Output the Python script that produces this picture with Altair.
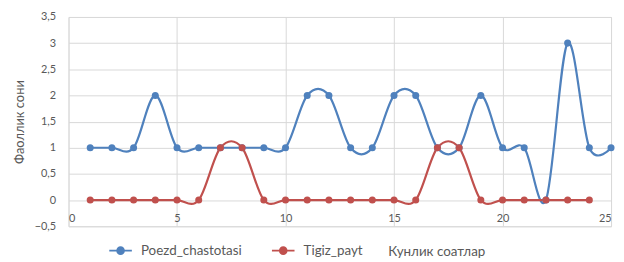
import altair as alt
import pandas as pd

hours_blue = list(range(1, 26))
poezd = [1, 1, 1, 2, 1, 1, 1, 1, 1, 1, 2, 2, 1, 1, 2, 2, 1, 1, 2, 1, 1, 0, 3, 1, 1]
hours_red = list(range(1, 25))
tigiz = [0, 0, 0, 0, 0, 0, 1, 1, 0, 0, 0, 0, 0, 0, 0, 0, 1, 1, 0, 0, 0, 0, 0, 0]
series_names = ["Poezd_chastotasi", "Tigiz_payt"]
series_colors = ["#4F81BD", "#C0504D"]

df = pd.concat([
    pd.DataFrame({"x": hours_blue, "y": poezd, "s": series_names[0]}),
    pd.DataFrame({"x": hours_red, "y": tigiz, "s": series_names[1]}),
])

FONT = "Lato"
GRAY = "#595959"

sym = "M-1.2,0L1.2,0M-0.35,0a0.35,0.35 0 1,0 0.7,0a0.35,0.35 0 1,0 -0.7,0"

color = alt.Color(
    "s:N",
    scale=alt.Scale(domain=series_names, range=series_colors),
    legend=alt.Legend(
        title=None, orient="none", direction="horizontal",
        legendX=42, legendY=225, symbolType=sym, symbolSize=360,
        symbolStrokeWidth=2, labelFont=FONT, labelFontSize=13.5,
        labelColor=GRAY, columnPadding=26, labelOffset=10,
    ),
)

x = alt.X(
    "x:Q",
    scale=alt.Scale(domain=[0, 25], nice=False),
    axis=alt.Axis(
        values=[0, 5, 10, 15, 20, 25], domain=False, ticks=False,
        labelPadding=-14, labelFont=FONT, labelFontSize=11, labelColor=GRAY,
        gridColor="#d9d9d9", title="Кунлик соатлар", titleFont=FONT,
        titleFontSize=13.5, titleFontWeight="normal", titleColor=GRAY,
        titleAnchor="start", titleAlign="left", titleX=322, titleY=26,
        titleBaseline="middle",
    ),
)
y = alt.Y(
    "y:Q",
    scale=alt.Scale(domain=[-0.5, 3.5], nice=False),
    axis=alt.Axis(
        values=[-0.5, 0, 0.5, 1, 1.5, 2, 2.5, 3, 3.5], domain=False, ticks=False,
        labelExpr="replace(format(datum.value, ''), '.', ',')",
        labelPadding=13, labelFont=FONT, labelFontSize=11, labelColor=GRAY,
        gridColor="#d9d9d9", title="Фаоллик сони", titleFont=FONT,
        titleFontSize=13, titleFontWeight="normal", titleColor=GRAY,
        titlePadding=8,
    ),
)

lines = alt.Chart(df).mark_line(interpolate="cardinal", strokeWidth=2.2).encode(
    x=x, y=y, color=color, detail="s:N"
)
points = alt.Chart(df).mark_point(filled=True, size=50, opacity=1).encode(
    x=x, y=y, color=color
)

chart = alt.layer(lines, points).properties(
    width=547, height=211,
    padding={"top": 2, "left": 5, "right": 0, "bottom": 0},
).configure_view(stroke=None).configure(background="white")

chart.save("out.html", embed_options={"renderer": "svg", "actions": False})
